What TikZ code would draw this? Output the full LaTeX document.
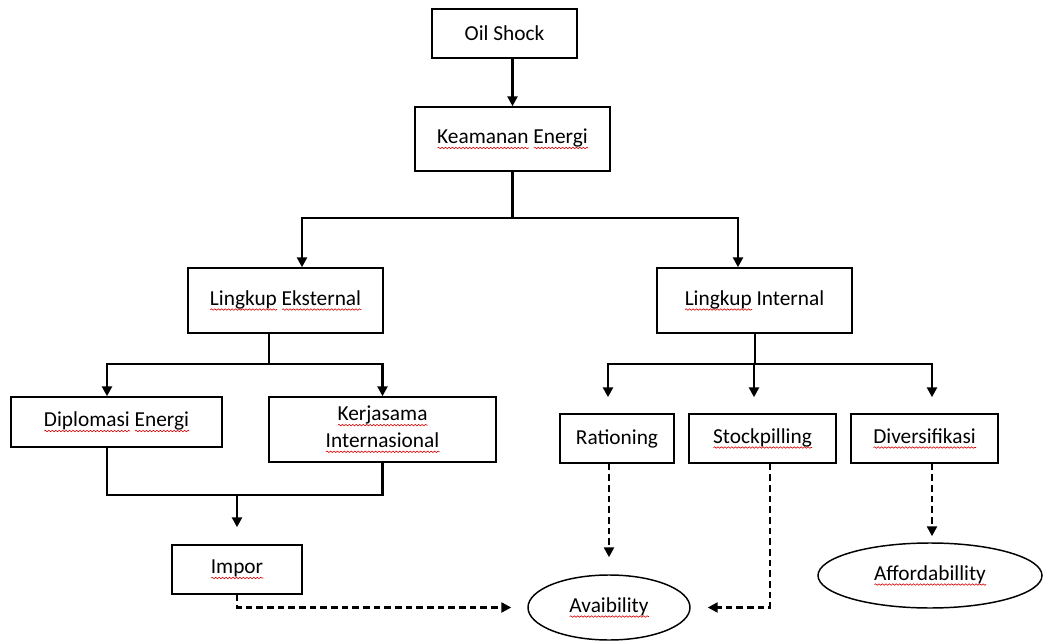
\documentclass[tikz,border=0pt]{standalone}
\usepackage{fontspec}
\setmainfont{Carlito}
\usetikzlibrary{arrows.meta,calc,shapes.geometric,decorations.pathmorphing}
\newlength\wlen
\newcommand\redwave[1]{\settowidth\wlen{#1}\rlap{\tikz[x=1pt,y=1pt,baseline=0pt]\draw[red!85!black,line width=0.45pt,decorate,decoration={snake,amplitude=0.55pt,segment length=2.6pt}] (0pt,-3.2pt) -- (\wlen,-3.2pt);}#1}
\tikzset{
  box/.style={draw, rectangle, line width=1.1pt, inner sep=0pt, align=center,
    font=\fontsize{16}{20}\selectfont},
  oval/.style={draw, ellipse, line width=1.1pt, inner sep=0pt, align=center,
    font=\fontsize{16}{20}\selectfont},
  conn/.style={line width=2.1pt},
  arr/.style={line width=2.1pt, -{Triangle[length=7.5pt,width=7.5pt]}},
  darr/.style={line width=1.8pt, dash pattern=on 5pt off 3pt, -{Triangle[length=7.5pt,width=7.5pt]}}
}
\begin{document}
\begin{tikzpicture}[x=0.75pt,y=-0.75pt]
\useasboundingbox (0,0) rectangle (1045,641);
\fill[white] (0,0) rectangle (1045,641);
% boxes
\node[box, minimum width=108.75pt, minimum height=36.75pt] (oil) at (504.5,33.5) {Oil Shock};
\node[box, minimum width=146.25pt, minimum height=48pt] (ke) at (512.5,139) {\redwave{Keamanan} \redwave{Energi}};
\node[box, minimum width=146.25pt, minimum height=48.75pt] (le) at (285.5,300.5) {\redwave{Lingkup} \redwave{Eksternal}};
\node[box, minimum width=146.25pt, minimum height=48.75pt] (li) at (754.5,300.5) {\redwave{Lingkup} Internal};
\node[box, minimum width=158.25pt, minimum height=37.5pt] (dip) at (116.5,422) {\redwave{Diplomasi} \redwave{Energi}};
\node[box, minimum width=170.25pt, minimum height=48.75pt] (kerj) at (382.5,429.5) {\redwave{Kerjasama}\\\redwave{Internasional}};
\node[box, minimum width=97.5pt, minimum height=36.75pt] (imp) at (237,569.5) {\redwave{Impor}};
\node[box, minimum width=85.5pt, minimum height=36.75pt] (rat) at (617,438.5) {Rationing};
\node[box, minimum width=110.25pt, minimum height=36.75pt] (stock) at (762.5,438.5) {\redwave{Stockpilling}};
\node[box, minimum width=110.25pt, minimum height=36.75pt] (div) at (924.5,438.5) {\redwave{Diversifikasi}};
\node[oval, minimum width=121.5pt, minimum height=48.75pt] (avail) at (609,607.5) {\redwave{Avaibility}};
\node[oval, minimum width=168pt, minimum height=48.75pt] (aff) at (930,575.5) {\redwave{Affordabillity}};
% junction coordinates
\coordinate (b1) at (512.5,218);
\coordinate (b2) at (269,364);
\coordinate (b3) at (755,364);
\coordinate (b4) at (237,495);
% connectors
\draw[arr] (oil.south -| ke.north) -- (ke.north);
\draw[conn] (ke.south) -- (b1);
\draw[arr] (b1) -| ($(le.north)+(16.5,0)$);
\draw[arr] (b1) -| ($(li.north)+(-16.5,0)$);
\draw[conn] ($(le.south)+(-16.5,0)$) -- (b2);
\draw[arr] (b2) -| ($(dip.north)+(-9.5,0)$);
\draw[arr] (b2) -| (kerj.north);
\draw[conn] (li.south -| b3) -- (b3);
\draw[arr, shorten >=12pt] (b3) -| ($(rat.north)+(-9,0)$);
\draw[arr, shorten >=12pt] (b3) -| ($(stock.north)+(-8.5,0)$);
\draw[arr, shorten >=12pt] (b3) -| ($(div.north)+(7.5,0)$);
\draw[conn] ($(dip.south)+(-9.5,0)$) |- (b4);
\draw[conn] (kerj.south) |- (b4);
\draw[arr, shorten >=12.75pt] (b4) -- (imp.north);
% dashed
\draw[darr, shorten >=12pt] (imp.south) |- (avail.west);
\draw[darr, shorten >=12.75pt] (rat.south -| avail.north) -- (avail.north);
\draw[darr, shorten >=12.75pt] ($(stock.south)+(7.5,0)$) |- (avail.east);
\draw[darr, shorten >=4.5pt] ($(div.south)+(7.5,0)$) -- ($(aff.north)+(2,0)$);
\end{tikzpicture}
\end{document}
